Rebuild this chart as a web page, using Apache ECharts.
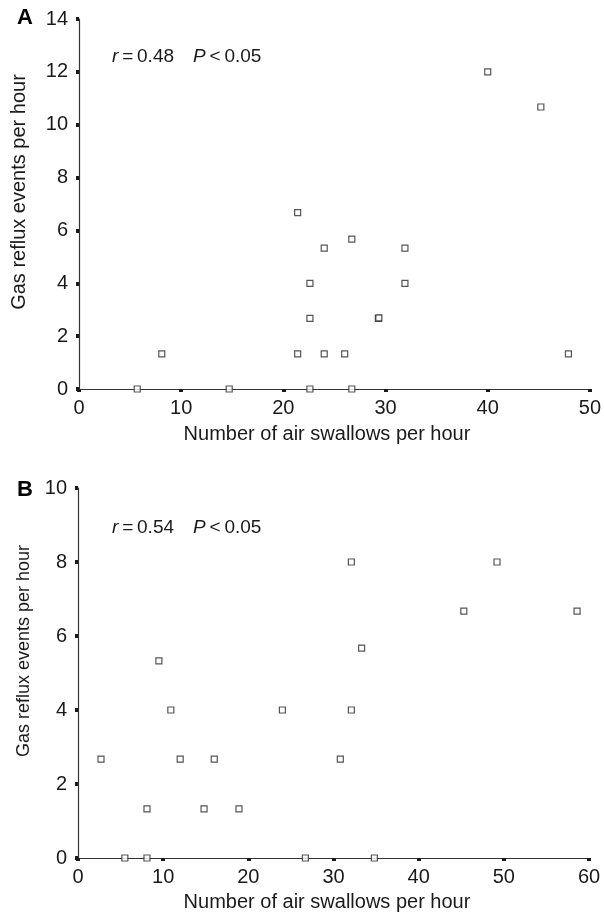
<!DOCTYPE html>
<html>
<head>
<meta charset="utf-8">
<script src="https://cdn.jsdelivr.net/npm/echarts@6/dist/echarts.min.js"></script>
<style>html,body{margin:0;padding:0;background:#fff}#c{width:604px;height:914px}</style>
</head>
<body>
<div id="c"></div>
<script>
// Panel A: [air swallows per hour, gas reflux events per hour]
const panelA = [
  [5.7, 0], [8.1, 1.33], [14.7, 0], [21.4, 6.67], [21.4, 1.33],
  [22.6, 4], [22.6, 2.67], [22.6, 0], [24.0, 5.33], [24.0, 1.33],
  [26.0, 1.33], [26.7, 5.67], [26.7, 0], [29.3, 2.67], [29.35, 2.69],
  [31.9, 5.33], [31.9, 4], [40.0, 12], [45.2, 10.67], [47.9, 1.33]
];
// Panel B
const panelB = [
  [2.7, 2.67], [5.5, 0], [8.1, 1.33], [8.1, 0], [9.5, 5.33],
  [10.9, 4], [12.0, 2.67], [14.8, 1.33], [16.0, 2.67], [18.9, 1.33],
  [24.0, 4], [26.7, 0], [30.8, 2.67], [32.1, 4], [32.1, 8],
  [33.3, 5.67], [34.8, 0], [45.3, 6.67], [49.2, 8], [58.6, 6.67]
];
const axisA = { xMax: 50, xStep: 10, yMax: 14, yStep: 2 };
const axisB = { xMax: 60, xStep: 10, yMax: 10, yStep: 2 };
const xTitle = 'Number of air swallows per hour';
const yTitle = 'Gas reflux events per hour';
const statsA = { r: '0.48', p: '0.05' };
const statsB = { r: '0.54', p: '0.05' };

const FONT = '"Liberation Sans", Arial, Helvetica, sans-serif';
const INK = '#1a1a1a';

function xAxis(idx, ax) {
  return {
    type: 'value', gridIndex: idx, min: 0, max: ax.xMax, interval: ax.xStep,
    splitLine: { show: false },
    axisLine: { show: true, onZero: false, lineStyle: { color: '#333', width: 1.2 } },
    axisTick: { show: true, length: 3, lineStyle: { color: INK, width: 4 } },
    axisLabel: { color: INK, fontSize: 20, fontFamily: FONT, margin: 9 }
  };
}
function yAxis(idx, ax) {
  return {
    type: 'value', gridIndex: idx, min: 0, max: ax.yMax, interval: ax.yStep,
    splitLine: { show: false },
    axisLine: { show: true, onZero: false, lineStyle: { color: '#333', width: 1.2 } },
    axisTick: { show: true, length: 3, lineStyle: { color: INK, width: 4 } },
    axisLabel: { color: INK, fontSize: 20, fontFamily: FONT, margin: 11 }
  };
}
function series(idx, data) {
  return {
    type: 'scatter', xAxisIndex: idx, yAxisIndex: idx, data: data,
    symbol: 'rect', symbolSize: 6,
    itemStyle: { color: '#fff', borderColor: '#2a2a2a', borderWidth: 1.2 },
    emphasis: { disabled: true }, z: 5
  };
}
function stats(s, x, y) {
  return {
    type: 'text', left: x, top: y,
    style: {
      text: '{i|r}{n|\u2009=\u2009' + s.r + '\u2002\u2002}{i|P}{n|\u2009<\u2009' + s.p + '}',
      rich: {
        i: { fontStyle: 'italic', fontSize: 19, fontFamily: FONT, fill: INK },
        n: { fontSize: 19, fontFamily: FONT, fill: INK }
      }
    }
  };
}

const chart = echarts.init(document.getElementById('c'), null, { renderer: 'canvas' });
chart.setOption({
  animation: false,
  backgroundColor: '#fff',
  grid: [
    { left: 79, top: 19, width: 511, height: 370 },
    { left: 78, top: 488, width: 511, height: 370 }
  ],
  xAxis: [xAxis(0, axisA), xAxis(1, axisB)],
  yAxis: [yAxis(0, axisA), yAxis(1, axisB)],
  series: [series(0, panelA), series(1, panelB)],
  graphic: [
    { type: 'text', x: 25, y: 18, style: { text: 'A', font: 'bold 22px ' + FONT, fill: '#000', align: 'center', verticalAlign: 'middle' } },
    { type: 'text', x: 25, y: 490, style: { text: 'B', font: 'bold 22px ' + FONT, fill: '#000', align: 'center', verticalAlign: 'middle' } },
    stats(statsA, 112, 47),
    stats(statsB, 112, 518),
    { type: 'text', x: 327, y: 434, style: { text: xTitle, font: '20px ' + FONT, fill: INK, align: 'center', verticalAlign: 'middle' } },
    { type: 'text', x: 327, y: 902, style: { text: xTitle, font: '20px ' + FONT, fill: INK, align: 'center', verticalAlign: 'middle' } },
    { type: 'text', x: 19, y: 192, rotation: Math.PI / 2, style: { text: yTitle, font: '20px ' + FONT, fill: INK, align: 'center', verticalAlign: 'middle' } },
    { type: 'text', x: 24, y: 651, rotation: Math.PI / 2, style: { text: yTitle, font: '18px ' + FONT, fill: INK, align: 'center', verticalAlign: 'middle' } }
  ]
});
</script>
</body>
</html>
